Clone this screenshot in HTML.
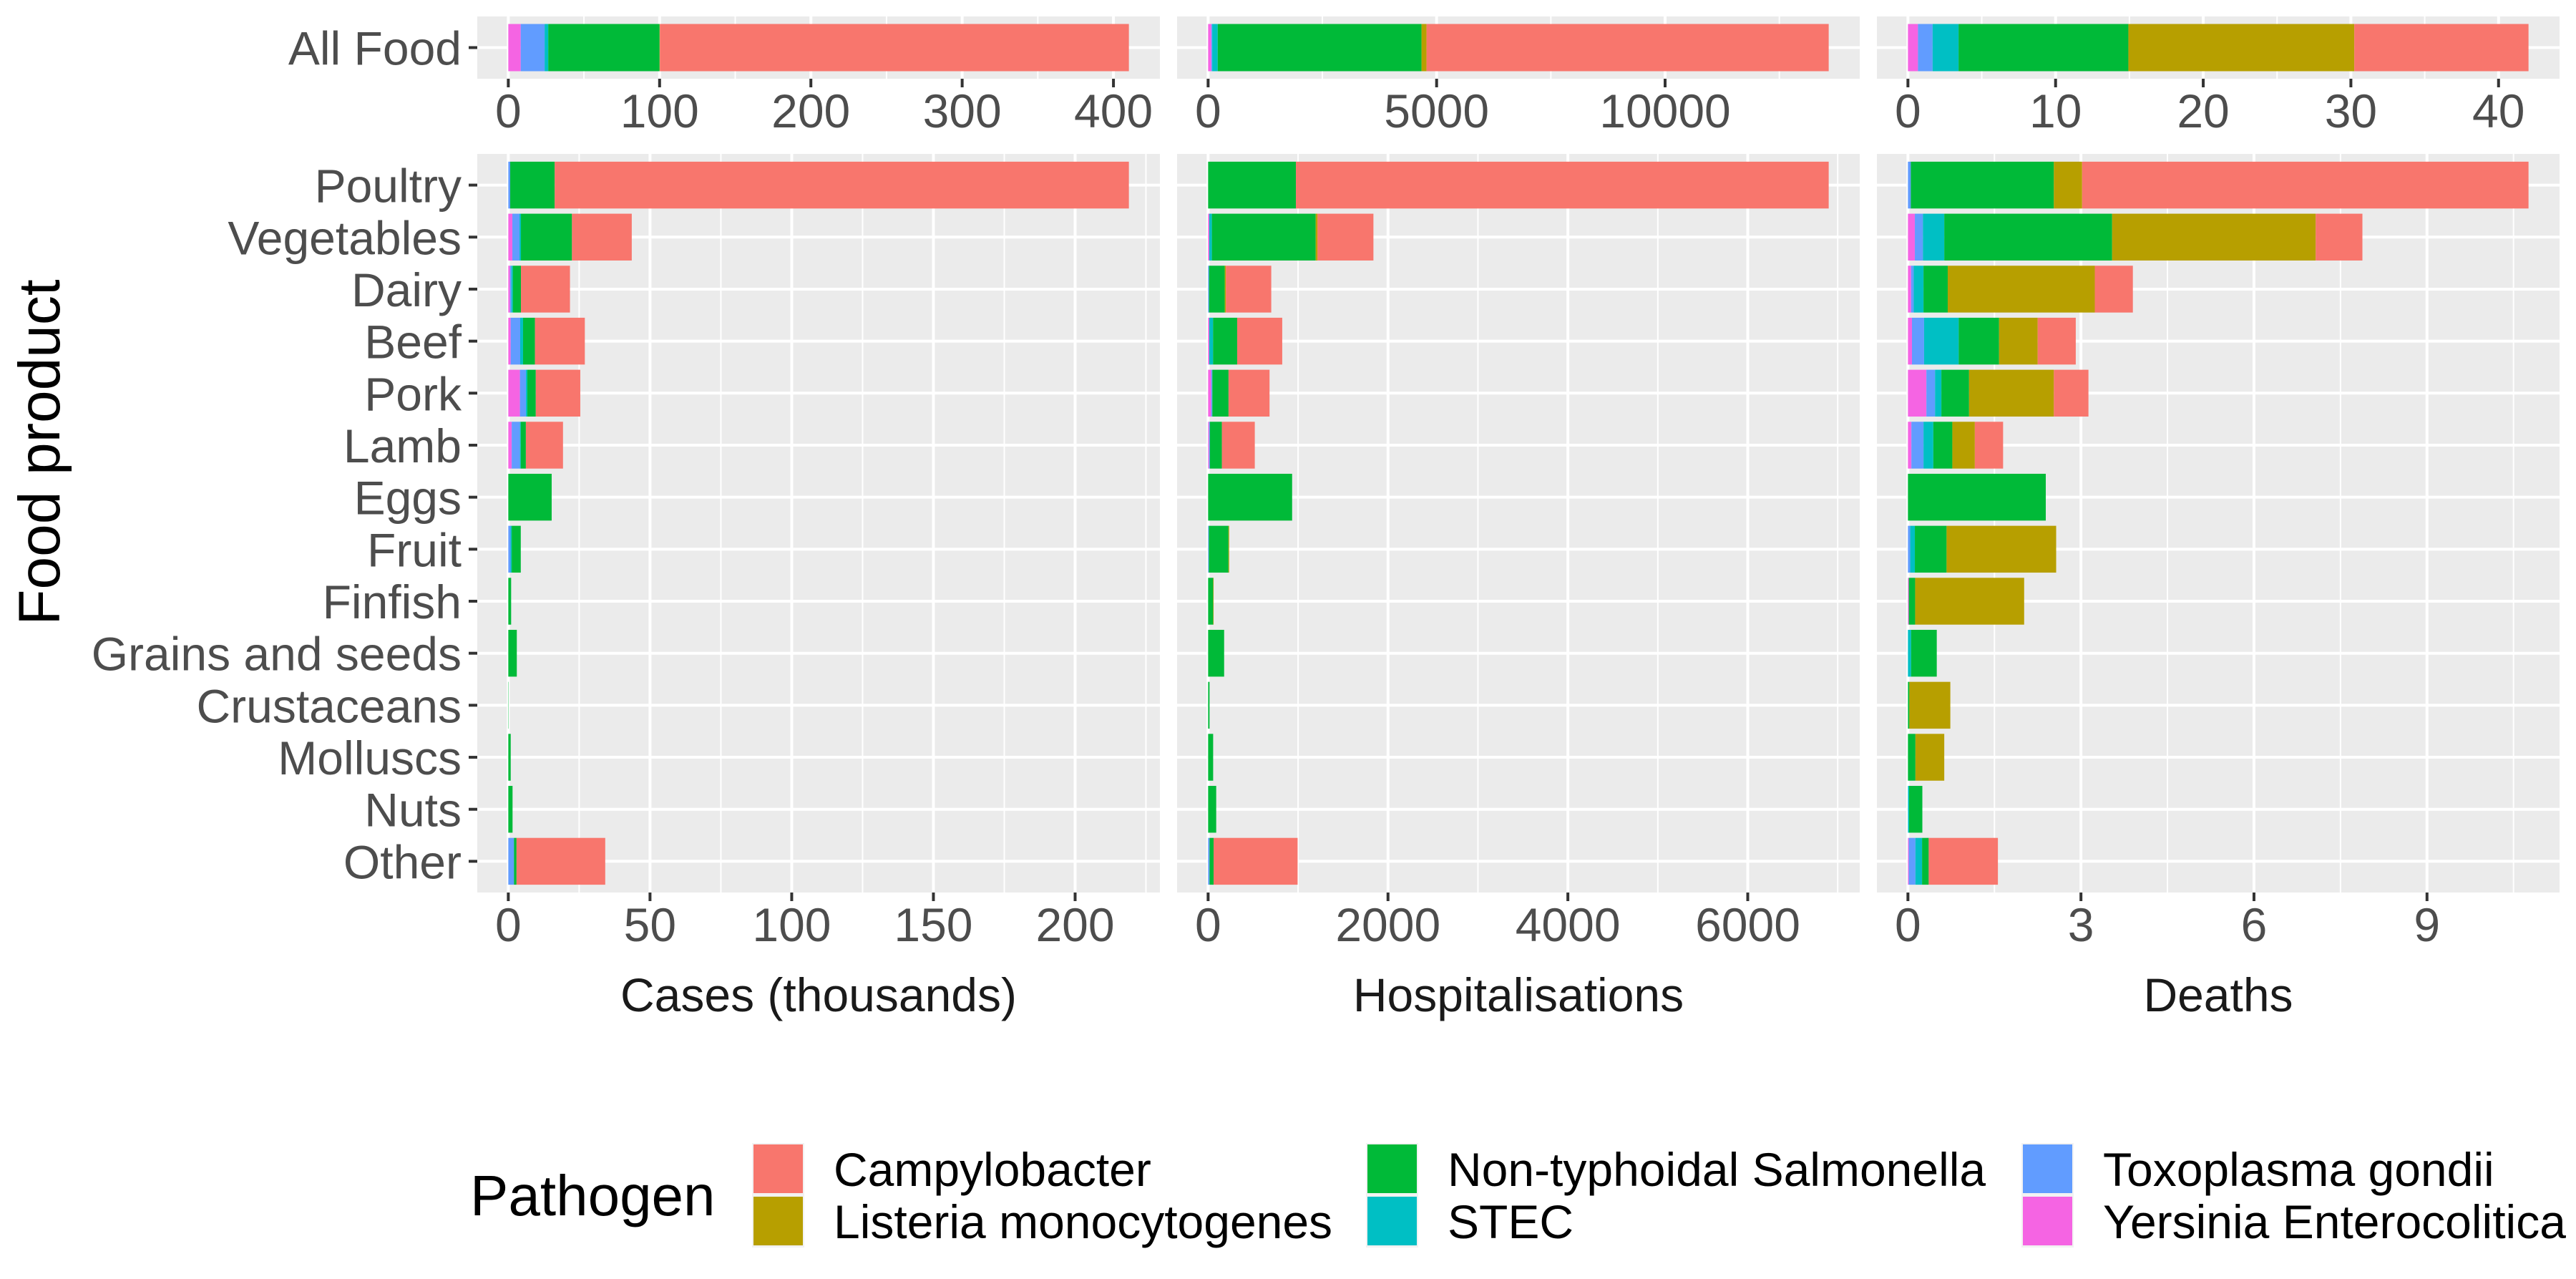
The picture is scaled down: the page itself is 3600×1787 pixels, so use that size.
<!DOCTYPE html>
<html><head><meta charset="utf-8"><style>
html,body{margin:0;padding:0;background:#fff;}
svg{display:block;}
text{font-family:"Liberation Sans",Arial,sans-serif;}
</style></head><body>
<svg id="chart" width="3600" height="1787" viewBox="0 0 3600 1787" xmlns="http://www.w3.org/2000/svg">
<rect x="0" y="0" width="3600" height="1787" fill="#fff"/>
<text transform="translate(83,632) rotate(-90)" text-anchor="middle" font-size="82" fill="#000">Food product</text>
<g id="panels"></g>
<g id="legend">
<text x="657" y="1698" font-size="80" fill="#000">Pathogen</text>
</g>
</svg>
<script>
const categories = ["Poultry","Vegetables","Dairy","Beef","Pork","Lamb","Eggs","Fruit","Finfish","Grains and seeds","Crustaceans","Molluscs","Nuts","Other"];
const pathogens = ["Yersinia Enterocolitica","Toxoplasma gondii","STEC","Non-typhoidal Salmonella","Listeria monocytogenes","Campylobacter"];
const pathogenColors = ["#F564E3","#619CFF","#00BFC4","#00BA38","#B79F00","#F8766D"];

// Cases (thousands)
const casesYersinia = [0,1.43,0.6,0.84,4.1,1.2,0,0,0,0,0,0,0,0];
const casesToxo = [0.67,2.53,0.5,3.36,2.1,2.9,0,0.8,0,0,0,0,0,2.0];
const casesSTEC = [0,0.5,0.5,1,0.5,0.3,0,0.4,0,0,0,0,0,0];
const casesSalmonella = [15.7,18,2.86,4.2,3,1.8,15.3,3.2,1.0,3.0,0.1,0.85,1.5,0.9];
const casesListeria = [0,0,0,0,0,0,0,0,0,0,0,0,0,0];
const casesCampy = [202.6,21.1,17.3,17.6,15.7,13.1,0,0,0,0,0,0,0,31.3];
const casesAll = [8.2,15.8,2.4,73.6,0.2,310];

// Hospitalisations
const hospYersinia = [0,13,0,13,34,10,0,0,0,0,0,0,0,0];
const hospToxo = [0,0,10,0,13,10,0,8,0,0,0,0,0,16];
const hospSTEC = [0,29,0,42,0,0,0,0,0,0,0,0,0,0];
const hospSalmonella = [976,1154,175,268,180,133,934,218,56,178,16,56,90,45];
const hospListeria = [0,21,13,0,0,0,0,8,5,0,0,0,0,0];
const hospCampy = [5924,621,504,501,456,366,0,0,0,0,0,0,0,934];
const hospAll = [70,20,120,4460,110,8800];

// Deaths
const deathsYersinia = [0,0.12,0.055,0.07,0.32,0.06,0,0,0.015,0,0,0,0,0.015];
const deathsToxo = [0.05,0.14,0.045,0.21,0.15,0.21,0,0.04,0,0,0,0,0,0.115];
const deathsSTEC = [0,0.37,0.17,0.6,0.11,0.17,0,0.08,0,0.055,0,0,0.02,0.115];
const deathsSalmonella = [2.48,2.91,0.42,0.7,0.48,0.33,2.39,0.55,0.11,0.445,0.025,0.13,0.23,0.115];
const deathsListeria = [0.49,3.53,2.55,0.67,1.47,0.39,0,1.9,1.89,0,0.71,0.5,0,0];
const deathsCampy = [7.74,0.81,0.66,0.66,0.6,0.49,0,0,0,0,0,0,0,1.2];
const deathsAll = [0.68,0.99,1.76,11.5,15.3,11.8];

const casesTopTicks = [0,100,200,300,400];
const casesBottomTicks = [0,50,100,150,200];
const hospTopTicks = [0,5000,10000];
const hospBottomTicks = [0,2000,4000,6000];
const deathsTopTicks = [0,10,20,30,40];
const deathsBottomTicks = [0,3,6,9];
const axisTitles = ["Cases (thousands)","Hospitalisations","Deaths"];

const NS = "http://www.w3.org/2000/svg";
function mk(tag, attrs, parent){
  const e = document.createElementNS(NS, tag);
  for (const k in attrs) e.setAttribute(k, attrs[k]);
  parent.appendChild(e);
  return e;
}
const panelsG = document.getElementById('panels');
const panelLefts = [667,1645,2623];
const PW = 954;
const TOP = {y0:23, y1:110};
const BOT = {y0:215, y1:1247};
const metricNames = ["cases","hospitalisations","deaths"];

function makeScale(left, max){
  const inner = PW/1.1;
  return v => left + PW*0.05/1.1 + (v/max)*inner;
}

function gridAndTicks(g, sx, ticks, y0, y1, left, right, labelBaseline, name){
  const step = ticks[1]-ticks[0];
  for (let k=-1;k<ticks.length+3;k++){
    const x = sx(ticks[0] + (k+0.5)*step);
    if (x>left && x<right){
      const l = mk('line',{x1:x,x2:x,y1:y0,y2:y1,stroke:'#fff','stroke-width':2},g);
      
      
    }
  }
  for (let k=ticks.length;k<ticks.length+3;k++){
    const x = sx(ticks[0]+k*step);
    if (x>left && x<right){
      const l = mk('line',{x1:x,x2:x,y1:y0,y2:y1,stroke:'#fff','stroke-width':4},g);
      
      
    }
  }
  ticks.forEach(v=>{
    const x = sx(v);
    const l = mk('line',{x1:x,x2:x,y1:y0,y2:y1,stroke:'#fff','stroke-width':4},g);
    
    
    const t = mk('line',{x1:x,x2:x,y1:y1,y2:y1+12,stroke:'#333','stroke-width':4},g);
    
    
    const lab = mk('text',{x:x,y:labelBaseline,'text-anchor':'middle','font-size':66,fill:'#4d4d4d'},g);
    lab.textContent = String(v);
    
    
  });
}

function slug(s){ return s.toLowerCase().replace(/[^a-z]+/g,'-'); }

function drawPanel(pi, bottomSeries, allSeries, topTicks, botTicks, title){
  const left = panelLefts[pi], right = left + PW;
  const g = mk('g',{},panelsG);
  
  

  let tmax = 0; allSeries.forEach(v=>tmax+=v);
  const tx = makeScale(left, tmax);
  const bgT = mk('rect',{x:left,y:TOP.y0,width:PW,height:TOP.y1-TOP.y0,fill:'#ebebeb'},g);
  
  
  const tyc = (TOP.y0+TOP.y1)/2;
  const hl = mk('line',{x1:left,x2:right,y1:tyc,y2:tyc,stroke:'#fff','stroke-width':4},g);
  
  
  gridAndTicks(g, tx, topTicks, TOP.y0, TOP.y1, left, right, 178, metricNames[pi]+'-top-x');
  let acc = 0;
  allSeries.forEach((v,j)=>{
    const r = mk('rect',{x:tx(acc),y:tyc-33,width:Math.max(0,tx(acc+v)-tx(acc)),height:66,fill:pathogenColors[j]},g);
    
    
    acc += v;
  });

  const n = categories.length;
  let bmax = 0;
  for (let i=0;i<n;i++){ let s=0; bottomSeries.forEach(a=>s+=a[i]); bmax=Math.max(bmax,s); }
  const bx = makeScale(left, bmax);
  const bgB = mk('rect',{x:left,y:BOT.y0,width:PW,height:BOT.y1-BOT.y0,fill:'#ebebeb'},g);
  
  
  const unit = (BOT.y1-BOT.y0)/(n-1+1.2);
  const cy = i => BOT.y0 + unit*0.6 + i*unit;
  for (let i=0;i<n;i++){
    const l = mk('line',{x1:left,x2:right,y1:cy(i),y2:cy(i),stroke:'#fff','stroke-width':4},g);
    
    
  }
  gridAndTicks(g, bx, botTicks, BOT.y0, BOT.y1, left, right, 1315, metricNames[pi]+'-x');
  const bh = unit*0.9;
  for (let i=0;i<n;i++){
    let a = 0;
    bottomSeries.forEach((arr,j)=>{
      const v = arr[i];
      if (v>0){
        const r = mk('rect',{x:bx(a),y:cy(i)-bh/2,width:bx(a+v)-bx(a),height:bh,fill:pathogenColors[j]},g);
        
        
      }
      a += v;
    });
  }
  const tt = mk('text',{x:left+PW/2,y:1413,'text-anchor':'middle','font-size':66,fill:'#1a1a1a'},g);
  tt.textContent = title;
  
  

  if (pi===0){
    const yl = mk('text',{x:645,y:tyc+24,'text-anchor':'end','font-size':66,fill:'#4d4d4d'},g);
    yl.textContent = 'All Food';
    
    
    const yt = mk('line',{x1:655,x2:667,y1:tyc,y2:tyc,stroke:'#333','stroke-width':4},g);
    
    
    for (let i=0;i<n;i++){
      const t = mk('text',{x:645,y:cy(i)+24,'text-anchor':'end','font-size':66,fill:'#4d4d4d'},g);
      t.textContent = categories[i];
      
      
      const tk = mk('line',{x1:655,x2:667,y1:cy(i),y2:cy(i),stroke:'#333','stroke-width':4},g);
      
      
    }
  }
}

drawPanel(0,[casesYersinia,casesToxo,casesSTEC,casesSalmonella,casesListeria,casesCampy],casesAll,casesTopTicks,casesBottomTicks,axisTitles[0]);
drawPanel(1,[hospYersinia,hospToxo,hospSTEC,hospSalmonella,hospListeria,hospCampy],hospAll,hospTopTicks,hospBottomTicks,axisTitles[1]);
drawPanel(2,[deathsYersinia,deathsToxo,deathsSTEC,deathsSalmonella,deathsListeria,deathsCampy],deathsAll,deathsTopTicks,deathsBottomTicks,axisTitles[2]);

const leg = document.getElementById('legend');
const legendOrder = [5,4,3,2,1,0];
const colX = [1053,1911,2827];
const rowY = [1599,1672];
legendOrder.forEach((pj,k)=>{
  const col = Math.floor(k/2), row = k%2;
  const kb = mk('rect',{x:colX[col]-2,y:rowY[row]-2,width:73,height:73,fill:'#f2f2f2'},leg);
  
  
  const r = mk('rect',{x:colX[col],y:rowY[row],width:69,height:68,fill:pathogenColors[pj]},leg);
  
  
  const t = mk('text',{x:colX[col]+112,y:rowY[row]+58,'font-size':66,fill:'#000'},leg);
  t.textContent = pathogens[pj];
  
  
});
</script>
</body></html>
